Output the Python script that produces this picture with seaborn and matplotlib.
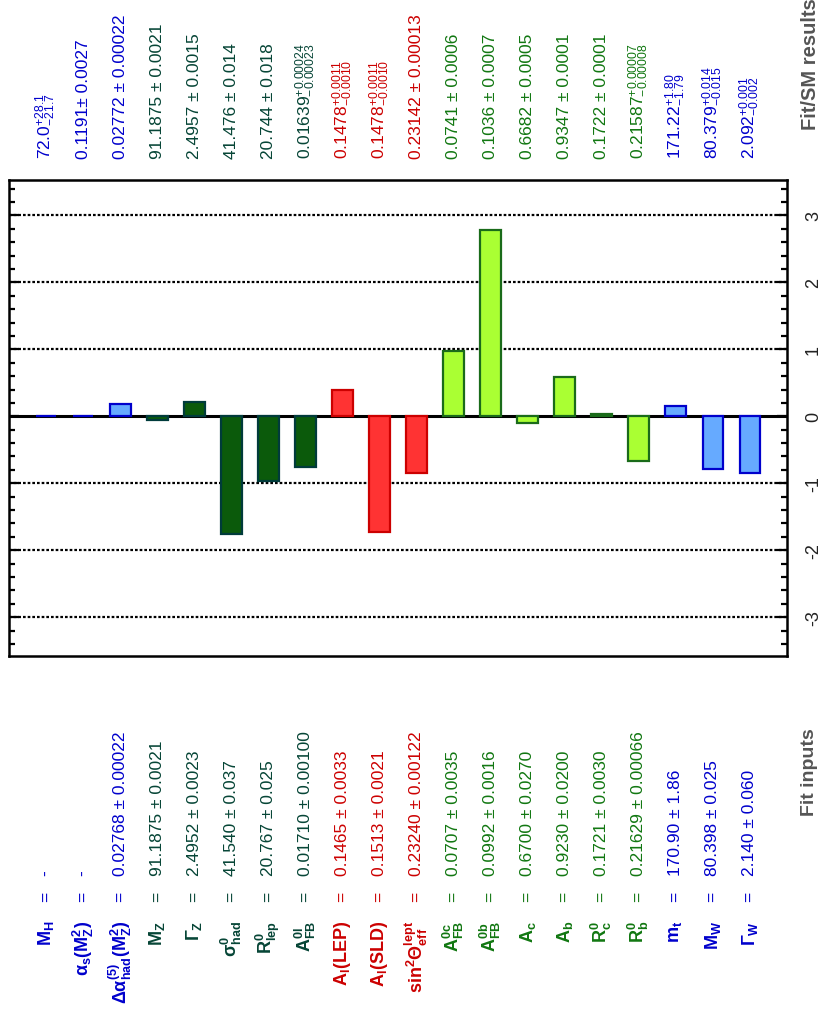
import matplotlib
matplotlib.use("Agg")
import matplotlib.pyplot as plt
import matplotlib.transforms as mtransforms
from matplotlib.ticker import MultipleLocator
import seaborn as sns
import pandas as pd

# ---------------- data ----------------
keys = ["MH", "alphas", "dalpha", "MZ", "GZ", "sighad", "Rlep", "AFBl",
        "AlLEP", "AlSLD", "sin2", "AFBc", "AFBb", "Ac", "Ab", "Rc", "Rb",
        "mt", "MW", "GW"]
names = [r"$\mathbf{M_H}$", r"$\mathbf{\alpha_s(M^2_Z)}$",
         r"$\mathbf{\Delta\alpha^{(5)}_{had}(M^2_Z)}$", r"$\mathbf{M_Z}$",
         r"$\mathbf{\Gamma_Z}$", r"$\mathbf{\sigma^0_{had}}$",
         r"$\mathbf{R^0_{lep}}$", r"$\mathbf{A^{0l}_{FB}}$",
         r"$\mathbf{A_l(LEP)}$", r"$\mathbf{A_l(SLD)}$",
         r"$\mathbf{sin^2\Theta^{lept}_{eff}}$", r"$\mathbf{A^{0c}_{FB}}$",
         r"$\mathbf{A^{0b}_{FB}}$", r"$\mathbf{A_c}$", r"$\mathbf{A_b}$",
         r"$\mathbf{R^0_c}$", r"$\mathbf{R^0_b}$", r"$\mathbf{m_t}$",
         r"$\mathbf{M_W}$", r"$\mathbf{\Gamma_W}$"]
fit_inputs = ["-", "-", "0.02768 ± 0.00022", "91.1875 ± 0.0021",
              "2.4952 ± 0.0023", "41.540 ± 0.037", "20.767 ± 0.025",
              "0.01710 ± 0.00100", "0.1465 ± 0.0033", "0.1513 ± 0.0021",
              "0.23240 ± 0.00122", "0.0707 ± 0.0035", "0.0992 ± 0.0016",
              "0.6700 ± 0.0270", "0.9230 ± 0.0200", "0.1721 ± 0.0030",
              "0.21629 ± 0.00066", "170.90 ± 1.86", "80.398 ± 0.025",
              "2.140 ± 0.060"]
fit_results = [r"72.0$^{+28.1}_{-21.7}$", "0.1191± 0.0027",
               "0.02772 ± 0.00022", "91.1875 ± 0.0021", "2.4957 ± 0.0015",
               "41.476 ± 0.014", "20.744 ± 0.018",
               r"0.01639$^{+0.00024}_{-0.00023}$",
               r"0.1478$^{+0.0011}_{-0.0010}$",
               r"0.1478$^{+0.0011}_{-0.0010}$",
               "0.23142 ± 0.00013", "0.0741 ± 0.0006", "0.1036 ± 0.0007",
               "0.6682 ± 0.0005", "0.9347 ± 0.0001", "0.1722 ± 0.0001",
               r"0.21587$^{+0.00007}_{-0.00008}$",
               r"171.22$^{+1.80}_{-1.79}$",
               r"80.379$^{+0.014}_{-0.015}$",
               r"2.092$^{+0.001}_{-0.002}$"]
pulls = [0.0, 0.0, 0.18, -0.05, 0.21, -1.76, -0.96, -0.75, 0.39, -1.73,
         -0.85, 0.98, 2.78, -0.10, 0.59, 0.03, -0.67, 0.16, -0.79, -0.85]
groups = ["blue"] * 3 + ["dkgreen"] * 5 + ["red"] * 3 + ["ltgreen"] * 6 + ["blue"] * 3

fill_col = {"blue": "#66aaff", "dkgreen": "#0b5a0b", "red": "#ff3333", "ltgreen": "#aaff33"}
edge_col = {"blue": "#0000cc", "dkgreen": "#003b3b", "red": "#cc0000", "ltgreen": "#1a6b1a"}
text_col = {"blue": "#0000cc", "dkgreen": "#064536", "red": "#cc0000", "ltgreen": "#117711"}

# ---------------- style ----------------
sns.set_theme(style="white")
plt.rcParams["font.family"] = ["Liberation Sans", "DejaVu Sans"]
plt.rcParams["mathtext.fontset"] = "custom"
plt.rcParams["mathtext.rm"] = "Liberation Sans"
plt.rcParams["mathtext.bf"] = "Liberation Sans:bold"
plt.rcParams["mathtext.it"] = "Liberation Sans:italic"
plt.rcParams["axes.unicode_minus"] = False

W, H = 825, 1012
fig = plt.figure(figsize=(W / 100, H / 100), dpi=100)
ax = fig.add_axes([9 / W, 1 - 657 / H, (787 - 9) / W, (657 - 181) / H])

df = pd.DataFrame({"key": keys, "pull": pulls, "group": groups})
pal = {k: fill_col[g] for k, g in zip(keys, groups)}
sns.barplot(data=df, x="key", y="pull", hue="key", order=keys, hue_order=keys,
            palette=pal, width=0.56, legend=False, ax=ax, saturation=1,
            zorder=3)
for p, g in zip(ax.patches, groups):
    p.set_edgecolor(edge_col[g])
    p.set_linewidth(1.6)
    p.set_zorder(3)

ax.axhline(0, color="black", lw=2.2, zorder=2)
for yv in [-3, -2, -1, 1, 2, 3]:
    ax.axhline(yv, color="black", lw=1.6, ls=(0, (1.2, 0.9)), zorder=1)

ax.set_xlim(-1, 20)
ax.set_ylim(-3.58, 3.53)
ax.set_xticks([])
ax.set_xlabel("")
ax.set_ylabel("")
ax.yaxis.set_major_locator(MultipleLocator(1))
ax.yaxis.set_minor_locator(MultipleLocator(0.2))
ax.yaxis.tick_right()
ax.tick_params(axis="y", which="both", direction="in", left=True, right=True,
               labelleft=False, labelright=True, color="black", width=1.6)
ax.tick_params(axis="y", which="major", length=7, labelsize=13,
               labelcolor="#222222", pad=13, labelrotation=90)
ax.tick_params(axis="y", which="minor", length=4)
for lab in ax.get_yticklabels():
    lab.set_verticalalignment("center")
for s in ax.spines.values():
    s.set_color("black")
    s.set_linewidth(1.8)
    s.set_visible(True)

# ---------------- text columns ----------------
tr = mtransforms.blended_transform_factory(ax.transData, fig.transFigure)
for i, (nm, fi, fr, g) in enumerate(zip(names, fit_inputs, fit_results, groups)):
    c = text_col[g]
    ax.text(i, 1 - 921 / H, nm, transform=tr, rotation=90, rotation_mode="anchor",
            ha="right", va="center", fontsize=13, color=c, clip_on=False)
    ax.text(i, 1 - 897 / H, "=", transform=tr, rotation=90, rotation_mode="anchor",
            ha="center", va="center", fontsize=12.5, color=c, clip_on=False)
    ax.text(i, 1 - 876 / H, fi, transform=tr, rotation=90, rotation_mode="anchor",
            ha="left", va="center", fontsize=12.5, color=c, clip_on=False)
    ax.text(i, 1 - 159 / H, fr, transform=tr, rotation=90, rotation_mode="anchor",
            ha="left", va="center", fontsize=12.5, color=c, clip_on=False)

fig.text(810 / W, 1 - 772 / H, "Fit inputs", rotation=90, ha="center", va="center",
         fontsize=14, fontweight="bold", color="#555555")
fig.text(810 / W, 1 - 130 / H, "Fit/SM results", rotation=90, rotation_mode="anchor",
         ha="left", va="center", fontsize=14.5, fontweight="bold", color="#555555")

fig.savefig("out.png", dpi=100)
